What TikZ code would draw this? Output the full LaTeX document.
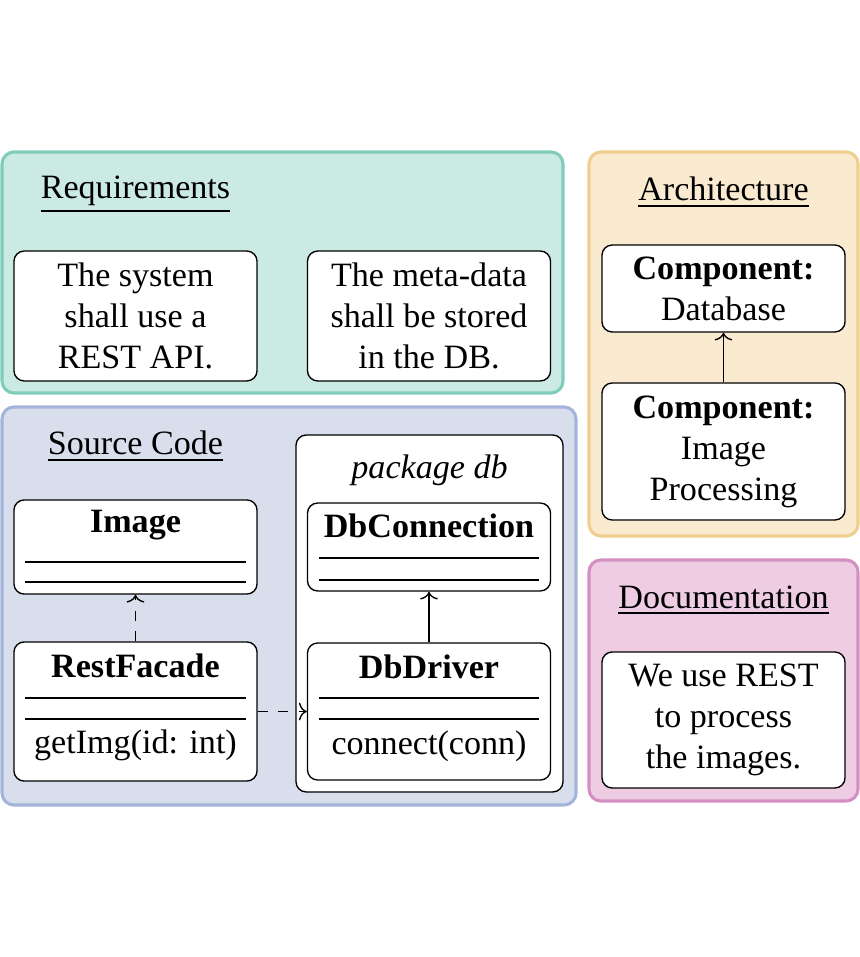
\documentclass[tikz,border=0pt]{standalone}
\usepackage{fontspec}
\setmainfont{Liberation Serif}
\usetikzlibrary{positioning,calc,arrows.meta}
\definecolor{reqfill}{HTML}{CCEAE4}
\definecolor{reqline}{HTML}{7FCCBA}
\definecolor{srcfill}{HTML}{D9DEED}
\definecolor{srcline}{HTML}{A3B3DA}
\definecolor{arcfill}{HTML}{FAEAD0}
\definecolor{arcline}{HTML}{F0CF8E}
\definecolor{docfill}{HTML}{EDCCE4}
\definecolor{docline}{HTML}{D48EC2}

\begin{document}
\begin{tikzpicture}[x=0.2933pt,y=-0.2933pt,>={To[width=5.2pt,length=2.3pt]},
  area/.style={line width=0.9pt,rounded corners=3.5pt},
  note/.style={draw,fill=white,rounded corners=3pt,align=center,
    minimum width=71.3pt,inner sep=0pt},
  pkg/.style={draw,fill=white,rounded corners=3pt,minimum width=78.3pt,
    minimum height=104.7pt,inner sep=0pt},
  lbl/.style={anchor=base,inner sep=0pt}]
\useasboundingbox (0,0) rectangle (859,957);

% areas
\draw[area,draw=reqline,fill=reqfill] (2,152) rectangle (563,393);
\draw[area,draw=srcline,fill=srcfill] (2,407) rectangle (576,805);
\draw[area,draw=arcline,fill=arcfill] (589,152) rectangle (858,536);
\draw[area,draw=docline,fill=docfill] (589,560) rectangle (858,801);

% requirements
\node[lbl] (reqt) at (135.5,199) {\underline{Requirements}};
\node[note,minimum height=38.1pt] (req1) at (135.5,316) {The system\\shall use a\\REST API.};
\node[note,minimum height=38.1pt] (req2) at (429,316) {The meta-data\\shall be stored\\in the DB.};

% source code
\node[lbl] (srct) at (135.5,455) {\underline{Source Code}};
\node[pkg] (db) at (429.5,613.5) {};
\node[lbl] (dbt) at (429.5,479) {\itshape package db};

\node[note,minimum height=27.6pt] (img) at (135.5,547) {};
\node[lbl,font=\bfseries] at (135.5,533) {Image};
\foreach \y in {562,582} \draw (25,\y) -- (246,\y);

\node[note,minimum height=40.8pt] (rest) at (135.5,711.5) {};
\node[lbl,font=\bfseries] at (135.5,677) {RestFacade};
\foreach \y in {698,719} \draw (25,\y) -- (246,\y);
\node[lbl] at (135.5,753) {getImg(id: int)};

\node[note,minimum height=25.8pt] (conn) at (429,547) {};
\node[lbl,font=\bfseries] at (429,538) {DbConnection};
\foreach \y in {558,580} \draw (319,\y) -- (539,\y);

\node[note,minimum height=40.2pt] (drv) at (429,711.5) {};
\node[lbl,font=\bfseries] at (429,678) {DbDriver};
\foreach \y in {698,719} \draw (319,\y) -- (539,\y);
\node[lbl] at (429,754) {connect(conn)};

\draw[->,dashed] (rest) -- (img);
\draw[->,dashed] (rest) -- (drv);
\draw[->] (drv) -- (conn);

% architecture
\node[lbl] (arct) at (723.5,201) {\underline{Architecture}};
\node[note,minimum height=25.5pt] (dbc) at (723.5,288.5) {\textbf{Component:}\\Database};
\node[note,minimum height=40.2pt] (ipc) at (723.5,451.5) {\textbf{Component:}\\Image\\Processing};
\draw[->] (ipc) -- (dbc);

% documentation
\node[lbl] (doct) at (723.5,608) {\underline{Documentation}};
\node[note,minimum height=39.9pt] (doc) at (723.5,720) {We use REST\\to process\\the images.};
\end{tikzpicture}
\end{document}
